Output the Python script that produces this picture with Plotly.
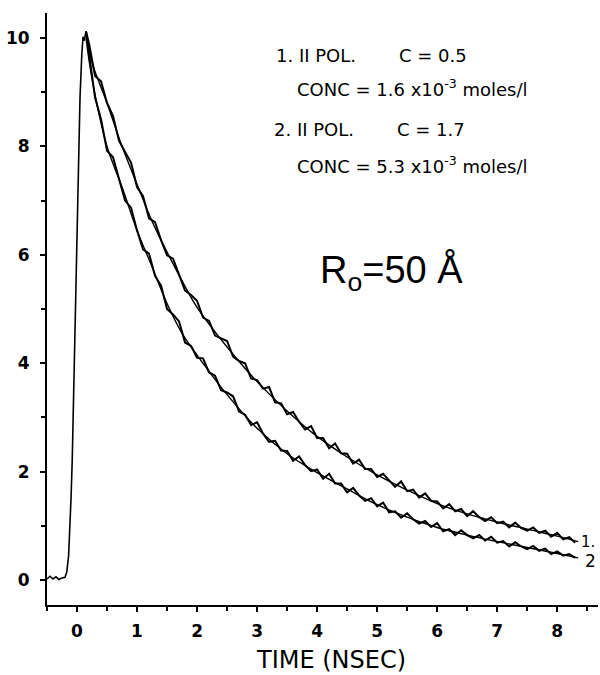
import plotly.graph_objects as go

# ---- data ----
rise_t = [-0.5, -0.45, -0.4, -0.35, -0.3, -0.25, -0.2, -0.17, -0.14, -0.12, -0.1, -0.08, -0.05, -0.02, 0.02, 0.05, 0.08, 0.1, 0.12, 0.15]
rise_y = [0.02, 0.07, 0.02, 0.06, 0.01, 0.04, 0.05, 0.15, 0.45, 0.87, 1.5, 2.2, 3.9, 5.2, 7.4, 8.9, 9.7, 10.02, 9.95, 10.12]

data_t = [round(0.2 + 0.1 * i, 1) for i in range(82)]  # 0.2 ... 8.3
data1 = [9.9, 9.3, 9.2, 8.8, 8.56, 8.1, 7.9, 7.7, 7.25, 7.08,
         6.67, 6.6, 6.27, 5.99, 5.93, 5.64, 5.34, 5.26, 5.15, 4.84,
         4.78, 4.51, 4.46, 4.41, 4.12, 4.04, 4.0, 3.72, 3.69, 3.53,
         3.56, 3.28, 3.26, 3.06, 3.1, 2.92, 2.78, 2.84, 2.62, 2.62,
         2.43, 2.52, 2.34, 2.33, 2.15, 2.22, 2.05, 2.05, 1.9, 1.96,
         1.84, 1.72, 1.82, 1.64, 1.67, 1.52, 1.6, 1.46, 1.45, 1.32,
         1.4, 1.27, 1.31, 1.18, 1.27, 1.16, 1.09, 1.16, 1.05, 1.08,
         0.97, 1.06, 0.96, 0.91, 0.97, 0.87, 0.91, 0.8, 0.87, 0.75,
         0.79, 0.69]
data2 = [9.7, 8.9, 8.5, 7.92, 7.8, 7.4, 7.0, 6.87, 6.45, 6.1,
         6.02, 5.61, 5.43, 5.0, 4.9, 4.77, 4.38, 4.32, 4.1, 4.09,
         3.83, 3.77, 3.5, 3.46, 3.39, 3.11, 3.05, 2.86, 2.91, 2.7,
         2.55, 2.57, 2.39, 2.38, 2.2, 2.28, 2.12, 2.01, 2.04, 1.87,
         1.96, 1.78, 1.78, 1.62, 1.7, 1.56, 1.46, 1.51, 1.36, 1.43,
         1.25, 1.27, 1.15, 1.23, 1.12, 1.04, 1.09, 0.98, 1.05, 0.9,
         0.94, 0.83, 0.92, 0.83, 0.77, 0.83, 0.73, 0.8, 0.69, 0.72,
         0.62, 0.7, 0.62, 0.57, 0.63, 0.54, 0.58, 0.48, 0.53, 0.45,
         0.48, 0.41]

fit_t = [0.15, 0.25, 0.5, 0.75, 1.0, 1.25, 1.5, 1.75, 2.0, 2.5, 3.0, 3.5, 4.0, 4.5, 5.0, 5.5, 6.0, 6.5, 7.0, 7.5, 8.0, 8.35]
fit1 = [10.1, 9.55, 8.8, 8.0, 7.3, 6.62, 6.05, 5.52, 5.03, 4.3, 3.66, 3.12, 2.65, 2.27, 1.94, 1.66, 1.41, 1.22, 1.07, 0.94, 0.81, 0.71]
fit2 = [10.0, 9.25, 8.0, 7.25, 6.45, 5.78, 5.1, 4.55, 4.15, 3.42, 2.8, 2.33, 1.98, 1.68, 1.39, 1.16, 0.97, 0.83, 0.71, 0.6, 0.49, 0.41]

x_ticks = [0, 1, 2, 3, 4, 5, 6, 7, 8]
y_ticks = [0, 2, 4, 6, 8, 10]

fig = go.Figure()
line = dict(color="black", width=2.0)
fig.add_trace(go.Scatter(x=rise_t, y=rise_y, mode="lines", line=dict(color="black", width=1.6)))
fig.add_trace(go.Scatter(x=[rise_t[-1]] + data_t, y=[rise_y[-1]] + data1, mode="lines", line=line))
fig.add_trace(go.Scatter(x=[rise_t[-1]] + data_t, y=[rise_y[-1]] + data2, mode="lines", line=line))
fig.add_trace(go.Scatter(x=fit_t, y=fit1, mode="lines", line=dict(color="black", width=1.4, shape="spline")))
fig.add_trace(go.Scatter(x=fit_t, y=fit2, mode="lines", line=dict(color="black", width=1.4, shape="spline")))

tickfont = dict(family="DejaVu Sans", size=17, color="black", weight="bold")
fig.update_xaxes(range=[-0.5, 8.68], tickvals=x_ticks, ticks="outside", ticklen=5, tickwidth=2,
                 tickcolor="black", showline=True, linecolor="black", linewidth=2, automargin=False,
                 showgrid=False, zeroline=False, tickfont=tickfont, ticklabelstandoff=5,
                 minor=dict(dtick=0.5, tick0=0, ticks="outside", ticklen=4, tickwidth=2, tickcolor="black"))
fig.update_yaxes(range=[-0.46, 10.46], tickvals=y_ticks, ticks="outside", ticklen=5, tickwidth=2,
                 tickcolor="black", showline=True, linecolor="black", linewidth=2, automargin=False,
                 showgrid=False, zeroline=False, tickfont=tickfont, ticklabelstandoff=7,
                 minor=dict(dtick=1, tick0=1, ticks="outside", ticklen=4, tickwidth=2, tickcolor="black"))

ann_font = dict(family="DejaVu Sans", size=18, color="black")
annotations = [
    dict(text="1. II POL.", x=274, y=55, font=ann_font, anchor="left"),
    dict(text="C = 0.5", x=397, y=55, font=ann_font, anchor="left"),
    dict(text="CONC = 1.6 x10<sup>-3</sup> moles/l", x=295, y=88, font=ann_font, anchor="left"),
    dict(text="2. II POL.", x=272, y=130, font=ann_font, anchor="left"),
    dict(text="C = 1.7", x=395, y=130, font=ann_font, anchor="left"),
    dict(text="CONC = 5.3 x10<sup>-3</sup> moles/l", x=295, y=165, font=ann_font, anchor="left"),
    dict(text="R<sub>o</sub>=50 Å", x=318, y=272, font=dict(family="Liberation Sans", size=38, color="black"), anchor="left"),
    dict(text="1.", x=597, y=542, font=dict(family="DejaVu Sans", size=15, color="black"), anchor="right"),
    dict(text="2", x=598, y=561, font=dict(family="DejaVu Sans", size=17, color="black"), anchor="right"),
    dict(text="TIME (NSEC)", x=254, y=660, font=dict(family="DejaVu Sans", size=24, color="black"), anchor="left"),
]
# plot area in window pixels: x 47..598, y 13..605
anns = []
for a in annotations:
    anns.append(dict(text=a["text"], xref="paper", yref="paper",
                     x=(a["x"] - 47) / (598 - 47), y=(605 - a["y"]) / (605 - 13),
                     xanchor=a["anchor"], yanchor="middle", showarrow=False, font=a["font"]))

fig.update_layout(width=600, height=675, showlegend=False,
                  paper_bgcolor="white", plot_bgcolor="white",
                  margin=dict(l=47, r=2, t=13, b=70), annotations=anns)

fig.write_html("out.html", config={"displayModeBar": False},
               post_script="document.body.style.margin='0';document.body.style.overflow='hidden';")
